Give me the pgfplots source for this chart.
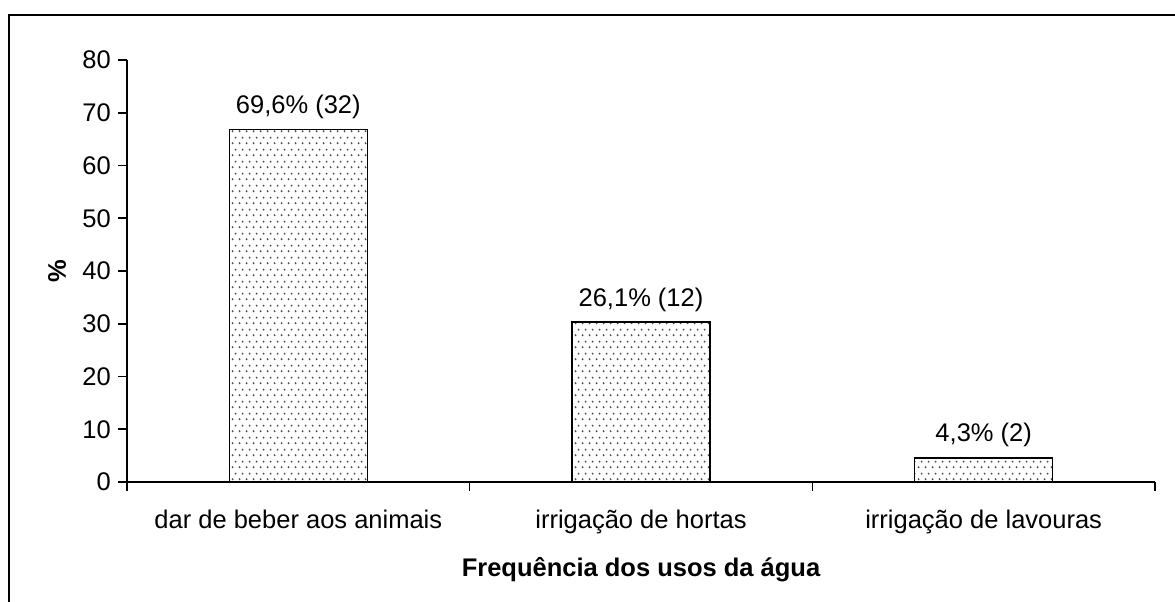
\documentclass[border=0pt]{standalone}
\usepackage{pgfplots}
\pgfplotsset{compat=1.18}
\usepackage{fontspec}
\setmainfont{Liberation Sans}
\usetikzlibrary{patterns.meta}
\pgfdeclarepattern{
  name=mydots, type=uncolored,
  bottom left={\pgfpoint{0pt}{0pt}}, top right={\pgfpoint{7pt}{12pt}},
  tile size={\pgfpoint{7pt}{12pt}},
  code={
    \pgfpathcircle{\pgfpoint{1.75pt}{3pt}}{1.15pt}
    \pgfpathcircle{\pgfpoint{5.25pt}{9pt}}{1.15pt}
    \pgfusepath{fill}
  }
}
\begin{document}
\fontsize{25.5}{30}\selectfont
\begin{tikzpicture}
\useasboundingbox (0,0) rectangle (1175pt,602pt);
\draw[line width=2pt] (9pt,-5pt) -- (9pt,587pt) -- (1180pt,587pt);
\begin{axis}[
  at={(127pt,120pt)}, anchor=south west,
  scale only axis, width=1028pt, height=422pt,
  xmin=0, xmax=3, ymin=0, ymax=80,
  axis x line*=bottom, axis y line*=left,
  axis line style={-, line width=1.6pt},
  /pgf/number format/assume math mode=true,
  tick align=outside, major tick length=9pt,
  tick style={black, line width=1.6pt},
  ytick={0,10,...,80},
  yticklabel style={inner sep=7pt},
  xtick={0,1,2,3}, xticklabels={},
  extra x ticks={0.5,1.5,2.5},
  extra x tick labels={dar de beber aos animais, irrigação de hortas, irrigação de lavouras},
  extra x tick style={major tick length=0pt, xticklabel style={anchor=base, yshift=-47pt}},
  ylabel={\bfseries\%},
  ylabel style={at={(axis description cs:-0.068,0.5)}, anchor=center},
  xlabel={\bfseries Frequência dos usos da água},
  xlabel style={at={(axis description cs:0.5,-0.2085)}, anchor=center},
  clip=false,
]
\addplot[ybar, bar width=138pt, draw=black, line width=1.6pt,
  pattern=mydots, pattern color=black!70,
  nodes near coords, point meta=explicit symbolic,
  nodes near coords style={anchor=base, yshift=16pt, text=black}]
  coordinates {(0.5,66.8) [69,6\% (32)] (1.5,30.3) [26,1\% (12)] (2.5,4.55) [4,3\% (2)]};
\end{axis}
\end{tikzpicture}
\end{document}
